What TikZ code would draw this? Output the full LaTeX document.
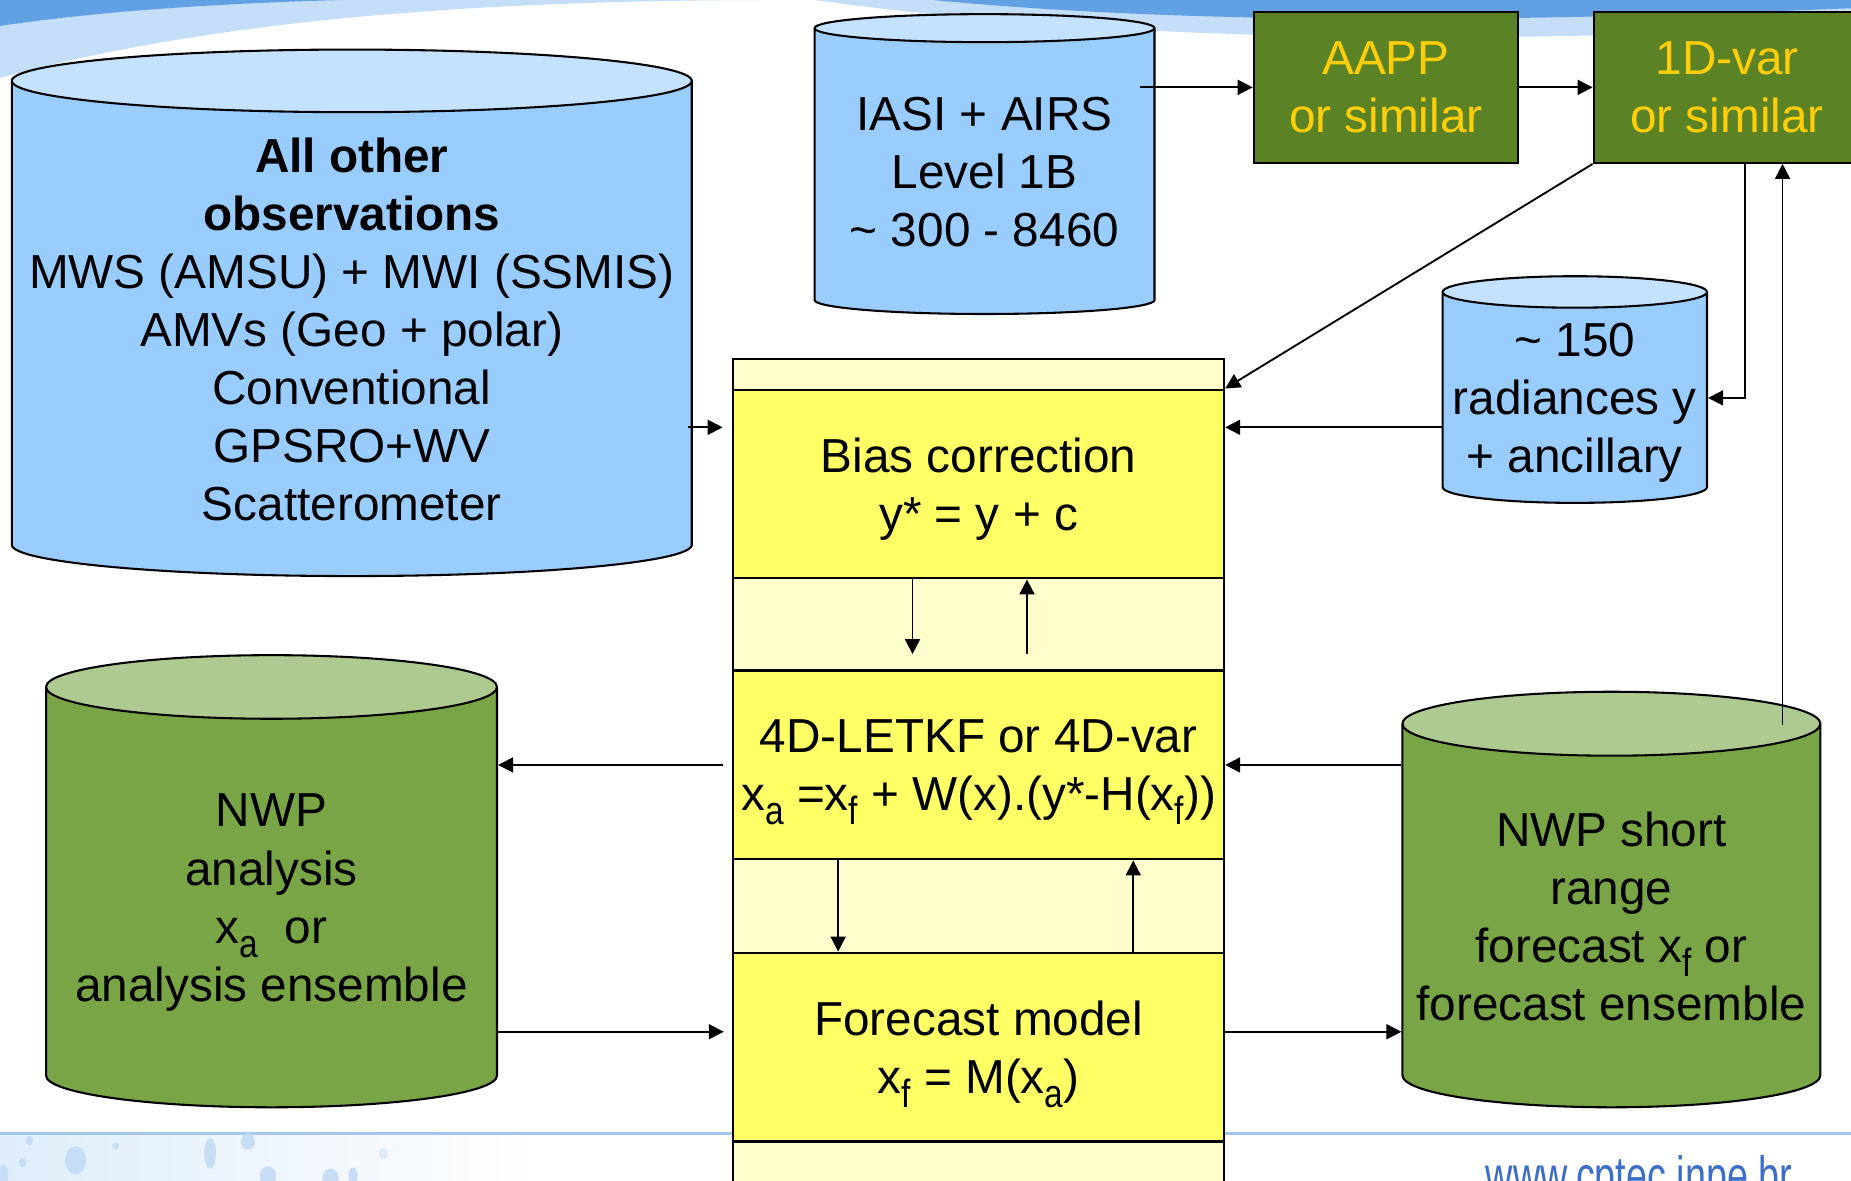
\documentclass[tikz,border=0pt]{standalone}
\usepackage{fontspec}
\setmainfont{Liberation Sans}
\usepackage{tikz}
\usetikzlibrary{shapes.geometric, arrows.meta, positioning}

\definecolor{obsblue}{RGB}{153,204,255}
\definecolor{obstop}{RGB}{196,225,255}
\definecolor{nwpgreen}{RGB}{122,165,71}
\definecolor{nwptop}{RGB}{175,202,145}
\definecolor{stepgreen}{RGB}{92,130,38}
\definecolor{stepgold}{RGB}{255,206,10}
\definecolor{boxyellow}{RGB}{255,255,102}
\definecolor{colyellow}{RGB}{255,255,206}
\definecolor{skydark}{RGB}{98,160,228}
\definecolor{skylight}{RGB}{196,222,247}
\definecolor{skyline}{RGB}{165,198,236}
\definecolor{skydrop}{RGB}{198,221,245}
\definecolor{urlblue}{RGB}{60,110,200}

% lowered index as in x_a, x_f
\newcommand{\sbs}[1]{\raisebox{-3.5pt}{\scalebox{0.85}[1]{\fontsize{9.5}{9.5}\selectfont #1}}}

\begin{document}
\begin{tikzpicture}[
    font=\fontsize{11.5}{14}\selectfont,
    arr/.style={-{Triangle[length=3.6pt,width=3.6pt]}, line width=0.45pt},
    drum/.style 2 args={cylinder, shape border rotate=90, draw, line width=0.5pt,
        cylinder uses custom fill, cylinder body fill=#1, cylinder end fill=#2,
        align=center, inner sep=0pt, text depth=0pt, anchor=shape center},
    stepbox/.style={rectangle, draw, line width=0.5pt, fill=stepgreen, text=stepgold,
        minimum width=2.24cm, minimum height=1.28cm, align=center},
    calcbox/.style={rectangle, draw, line width=0.5pt, fill=boxyellow, inner xsep=0.5pt,
        text depth=0pt, minimum width=4.16cm, minimum height=1.6cm, align=center}
]
    \useasboundingbox (0,0) rectangle (15.68,-10);
    \clip (0,0) rectangle (15.68,-10);

    % Sky bands along the top
    \fill[skylight] (0,0) -- (6.6,0) .. controls (3.5,0) and (1.5,-0.25) .. (0,-0.66) -- cycle;
    \fill[skydark] (0,0) -- (2.9,0) .. controls (1.8,-0.03) and (0.8,-0.1) .. (0,-0.22) -- cycle;
    \fill[skylight] (6.9,0) .. controls (9.5,-0.36) and (12.5,-0.38) .. (15.68,-0.22) -- (15.68,0) -- cycle;
    \fill[skydark] (7.9,0) .. controls (10,-0.2) and (12.5,-0.2) .. (15.68,-0.07) -- (15.68,0) -- cycle;

    % Bottom strip with droplets
    \shade[left color=skylight!55, right color=white] (0,-9.62) rectangle (4.6,-10);
    \draw[skyline, line width=0.7pt] (0,-9.6) -- (15.68,-9.6);
    \fill[skydrop] (0.64,-9.83) ellipse (0.09 and 0.12);
    \fill[skydrop] (1.78,-9.77) ellipse (0.05 and 0.13);
    \fill[skydrop] (2.10,-9.67) ellipse (0.06 and 0.07);
    \fill[skydrop] (0.25,-9.66) ellipse (0.03 and 0.04);
    \fill[skydrop] (0.98,-9.71) ellipse (0.03 and 0.03);
    \fill[skydrop] (2.27,-9.96) ellipse (0.07 and 0.08);
    \fill[skydrop] (2.80,-9.98) ellipse (0.07 and 0.08);
    \fill[skydrop] (2.99,-9.96) ellipse (0.04 and 0.07);
    \fill[skydrop] (0.03,-9.95) ellipse (0.04 and 0.08);
    \fill[skydrop] (0.19,-9.85) ellipse (0.03 and 0.04);
    \fill[skydrop!60] (3.25,-9.77) ellipse (0.04 and 0.05);
    \node[anchor=base west, text=urlblue, inner sep=0pt] (url) at (12.58,-10.12)
        {\scalebox{0.7}[1]{\fontsize{13}{13}\selectfont www.cptec.inpe.br}};

    % Column behind the three steps
    \filldraw[fill=colyellow, line width=0.5pt] (6.21,-3.04) rectangle (10.37,-10.2);

    % Observation stores
    \node[drum={obsblue}{obstop}, minimum width=5.76cm, minimum height=4.46cm, aspect=0.097] (obs) at (2.98,-2.65)
        {\textbf{All other}\\ \textbf{observations}\\ MWS (AMSU) + MWI (SSMIS)\\ AMVs (Geo + polar)\\ Conventional\\ GPSRO+WV\\ Scatterometer};
    \node[drum={obsblue}{obstop}, minimum width=2.88cm, minimum height=2.54cm, aspect=0.104] (iasi) at (8.34,-1.39)
        {IASI + AIRS\\ Level 1B\\ \textasciitilde\ 300 - 8460};
    \node[drum={obsblue}{obstop}, minimum width=2.24cm, minimum height=1.92cm, aspect=0.129] (rad) at (13.34,-3.30)
        {\textasciitilde\ 150\\ radiances y\\ + ancillary};

    % Pre-processing
    \node[stepbox] (aapp) at (11.74,-0.74) {AAPP\\ or similar};
    \node[stepbox, minimum width=2.26cm] (onedvar) at (14.63,-0.74) {1D-var\\ or similar};

    % Assimilation cycle
    \node[calcbox] (bias) at (8.29,-4.10) {Bias correction\\ y* = y + c};
    \node[calcbox] (ana) at (8.29,-6.48) {4D-LETKF or 4D-var\\ x\sbs{a} =x\sbs{f} + W(x).(y*-H(x\sbs{f}))};
    \node[calcbox] (fcst) at (8.29,-8.87) {Forecast model\\ x\sbs{f} = M(x\sbs{a})};

    % Model states
    \node[drum={nwpgreen}{nwptop}, minimum width=3.82cm, minimum height=3.83cm, aspect=0.162] (nwpana) at (2.30,-7.465)
        {NWP\\ analysis\\ x\sbs{a}\ \ or\\ analysis ensemble};
    \node[drum={nwpgreen}{nwptop}, minimum width=3.54cm, minimum height=3.52cm, aspect=0.164] (fcshort) at (13.65,-7.62)
        {NWP short\\ range\\ forecast x\sbs{f} or\\ forecast ensemble};

    % Heights of the side feeds
    \coordinate (rowa) at (0,-3.62);
    \coordinate (rowb) at (0,-8.74);

    % Radiance chain
    \draw[arr] ([xshift=-0.13cm]iasi.east |- aapp.west) -- (aapp.west);
    \draw[arr] (aapp.east) -- (onedvar.west);
    \draw[arr] (onedvar.south west) -- (bias.north east);
    \draw[arr] ([xshift=0.15cm]onedvar.south) |- (rad.east);
    \draw[arr] ([xshift=0.47cm,yshift=-0.29cm]onedvar.south |- fcshort.north) -- ([xshift=0.47cm]onedvar.south);
    \draw[arr] (rad.west |- rowa) -- (bias.east |- rowa);
    \draw[arr, shorten >=0.08cm] ([xshift=-0.04cm]obs.east |- rowa) -- (bias.west |- rowa);

    % Inside the column
    \draw[arr, shorten >=0.13cm] ([xshift=-0.56cm]bias.south) -- ([xshift=-0.56cm]ana.north);
    \draw[arr, shorten <=0.13cm] ([xshift=0.41cm]ana.north) -- ([xshift=0.41cm]bias.south);
    \draw[arr] ([xshift=-1.19cm]ana.south) -- ([xshift=-1.19cm]fcst.north);
    \draw[arr] ([xshift=1.31cm]fcst.north) -- ([xshift=1.31cm]ana.south);

    % Analysis and forecast exchange
    \draw[arr, shorten <=0.08cm] (ana.west) -- (nwpana.east |- ana.west);
    \draw[arr, shorten >=0.07cm] (nwpana.east |- rowb) -- (fcst.west |- rowb);
    \draw[arr] (fcshort.west |- ana.east) -- (ana.east);
    \draw[arr] (fcst.east |- rowb) -- (fcshort.west |- rowb);
\end{tikzpicture}
\end{document}
